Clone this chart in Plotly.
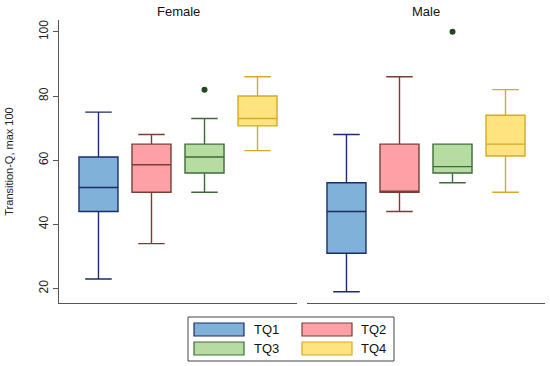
import plotly.graph_objects as go

# ---- data ----
groups = ["Female", "Male"]
series = ["TQ1", "TQ2", "TQ3", "TQ4"]
# per series: values for [Female, Male]
lower = {"TQ1": [23, 19], "TQ2": [34, 44], "TQ3": [50, 53], "TQ4": [63, 50]}
q1 = {"TQ1": [44, 31], "TQ2": [50, 50], "TQ3": [56, 56], "TQ4": [70.7, 61.3]}
median = {"TQ1": [51.5, 44], "TQ2": [58.6, 50], "TQ3": [61, 58], "TQ4": [73, 65]}
q3 = {"TQ1": [61, 53], "TQ2": [65, 65], "TQ3": [65, 65], "TQ4": [80, 74]}
upper = {"TQ1": [75, 68], "TQ2": [68, 86], "TQ3": [73, 65], "TQ4": [86, 82]}
outliers = {"TQ1": [[], []], "TQ2": [[], []], "TQ3": [[82], [100]], "TQ4": [[], []]}
y_ticks = [20, 40, 60, 80, 100]
y_title = "Transition-Q, max 100"

# ---- styles ----
fills = {"TQ1": "#80b1d8", "TQ2": "#ffa0a6", "TQ3": "#b6dca2", "TQ4": "#ffe37e"}
lines = {"TQ1": "#1b2d6b", "TQ2": "#7a3f33", "TQ3": "#3e6b38", "TQ4": "#d6a928"}
FONT = "Liberation Sans, Arial, sans-serif"

W, H = 550, 366
L, R, T, B = 59, 5, 20, 63
pw, ph = W - L - R, H - T - B


def px2x(px):
    return (px - L) / pw


def py2y(py):
    return (H - B - py) / ph


fig = go.Figure()
for gi, g in enumerate(groups):
    xa = "x" if gi == 0 else "x2"
    for s in series:
        fig.add_trace(go.Box(
            name=s, x=[g], orientation="v", offsetgroup=s,
            q1=[q1[s][gi]], median=[median[s][gi]], q3=[q3[s][gi]],
            lowerfence=[lower[s][gi]], upperfence=[upper[s][gi]],
            y=[outliers[s][gi]] if outliers[s][gi] else None,
            boxpoints="outliers" if outliers[s][gi] else False,
            jitter=0, pointpos=0,
            fillcolor=fills[s], line=dict(color=lines[s], width=1.4),
            marker=dict(color="#1e4a1e", size=6),
            whiskerwidth=0.68, showlegend=False,
            xaxis=xa, yaxis="y",
        ))

axis_line = "#555555"
fig.update_layout(
    width=W, height=H,
    margin=dict(l=L, r=R, t=T, b=B),
    paper_bgcolor="white", plot_bgcolor="white",
    boxmode="group", boxgap=0.109, boxgroupgap=0.264,
    font=dict(family=FONT, size=12, color="#222222"),
    xaxis=dict(domain=[0, px2x(297)], range=[-0.5, 0.5], showticklabels=False,
               ticks="", showgrid=False, zeroline=False, showline=True,
               linecolor=axis_line, linewidth=1, anchor="y", fixedrange=True),
    xaxis2=dict(domain=[px2x(307), 1], range=[-0.5, 0.5], showticklabels=False,
                ticks="", showgrid=False, zeroline=False, showline=True,
                linecolor=axis_line, linewidth=1, anchor="y", fixedrange=True),
    yaxis=dict(range=[15.5, 103.7], tickvals=y_ticks, ticks="outside", ticklen=5,
               tickcolor=axis_line, tickangle=-90, showgrid=False, zeroline=False,
               showline=True, linecolor=axis_line, linewidth=1,
               tickfont=dict(size=12, color="#222222"),
               title=dict(text=y_title, font=dict(size=11), standoff=21),
               automargin=False, anchor="x", fixedrange=True),
)

# panel titles
for gi, g in enumerate(groups):
    cx = (59 + 297) / 2 if gi == 0 else (307 + 545) / 2
    fig.add_annotation(text=g, x=px2x(cx), y=1, xref="paper", yref="paper",
                       xanchor="center", yanchor="middle", yshift=9,
                       showarrow=False, font=dict(size=13, color="#111111"))

# legend (drawn box)
fig.add_shape(type="rect", xref="paper", yref="paper",
              x0=px2x(188), x1=px2x(394), y0=py2y(361), y1=py2y(317),
              line=dict(color="#444444", width=1), fillcolor="white")
legend_pos = {"TQ1": (194, 323, 252, "left"), "TQ2": (302, 323, 388, "right"),
              "TQ3": (194, 342, 252, "left"), "TQ4": (302, 342, 388, "right")}
for s in series:
    rx, ry, tx, anc = legend_pos[s]
    fig.add_shape(type="rect", xref="paper", yref="paper",
                  x0=px2x(rx), x1=px2x(rx + 50), y0=py2y(ry + 13), y1=py2y(ry),
                  line=dict(color=lines[s], width=1.2), fillcolor=fills[s])
    fig.add_annotation(text=s, x=px2x(tx), y=py2y(ry + 6.5), xref="paper", yref="paper",
                       xanchor=anc, yanchor="middle", showarrow=False,
                       font=dict(size=13, color="#111111"))

fig.write_html("out.html", config={"displayModeBar": False},
               post_script="document.body.style.margin='0';document.body.style.overflow='hidden';")
